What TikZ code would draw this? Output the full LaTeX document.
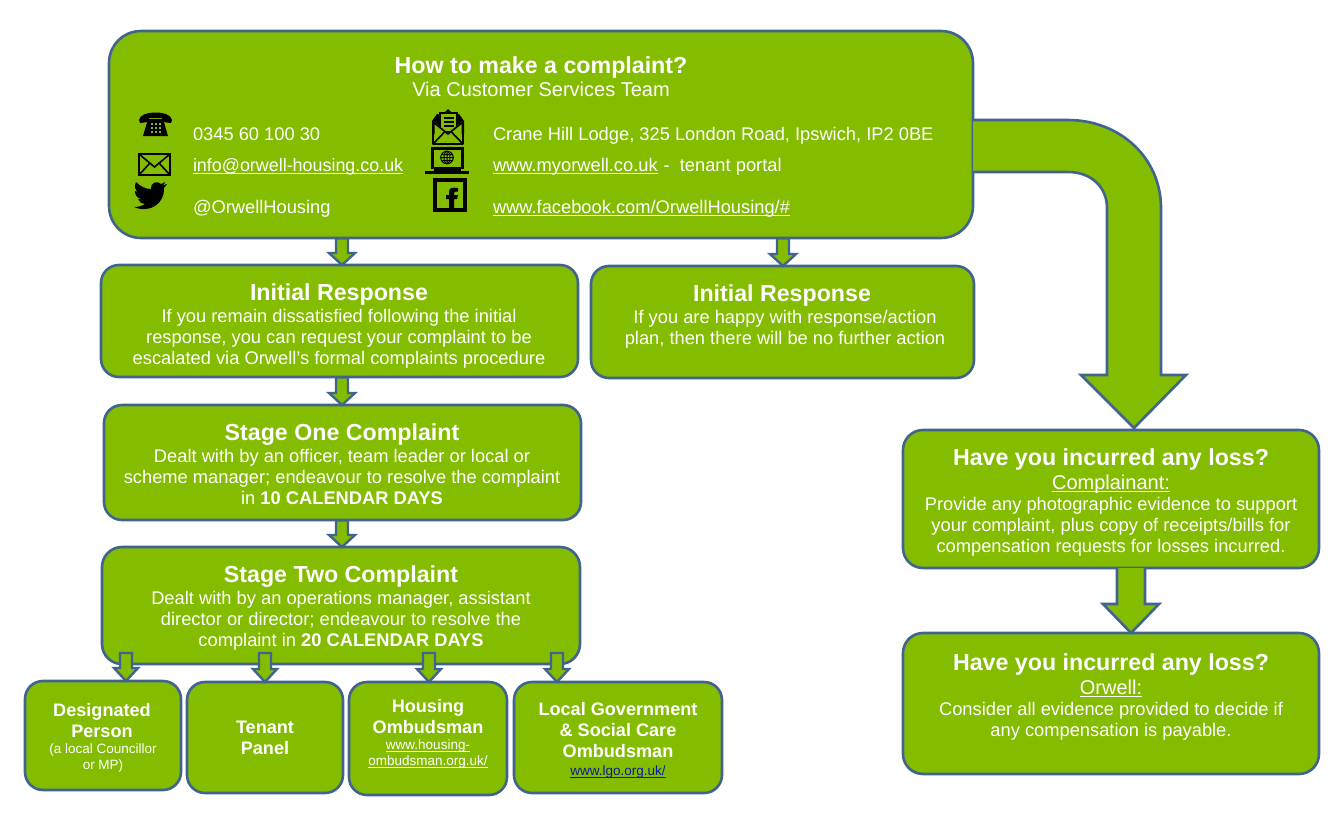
\documentclass[tikz,border=0pt]{standalone}
\usepackage{fontspec}
\setmainfont{Liberation Sans}
\usetikzlibrary{calc}
\definecolor{grn}{HTML}{84BC00}
\definecolor{edge}{HTML}{41648F}
\definecolor{linkblue}{HTML}{0A1E96}
\newcommand{\ulk}[1]{\setbox0\hbox{#1}\leavevmode\rlap{\rule[-2.6pt]{\wd0}{1.1pt}}\box0 }
\tikzset{
  flowbox/.style={draw=edge,fill=grn,line width=2.6pt,rounded corners=#1,inner sep=0pt,outer sep=0pt},
  flowbox/.default=18pt,
  blockarrow/.style={draw=edge,fill=grn,line width=2.6pt,line join=miter,miter limit=10},
  smallarrow/.style={draw=edge,fill=grn,line width=2.4pt,line join=miter,miter limit=10},
  base text/.style={text=white,inner sep=0pt,outer sep=0pt,execute at begin node=\strut,execute at end node=\strut},
  txt/.style={base text,align=center,font=\fontsize{18.3}{21}\selectfont},
  sub/.style={base text,align=center,font=\fontsize{20}{21}\selectfont},
  ltxt/.style={base text,align=left,anchor=west,font=\fontsize{18.3}{21}\selectfont},
  ttl/.style={base text,align=center,font=\fontsize{23.2}{25}\selectfont\bfseries},
  bsmall/.style={base text,align=center,font=\fontsize{18.1}{21}\selectfont\bfseries},
  tiny/.style={base text,align=center,font=\fontsize{13.5}{15.5}\selectfont},
  ico/.style={fill=black,draw=none},
  icol/.style={draw=black,line width=1.6pt,fill=none},
}
\newcommand{\boxnode}[6]{% name,x1,y1,x2,y2,radius
  \node[flowbox=#6,minimum width=#4pt-#2pt,minimum height=#5pt-#3pt,anchor=north west] (#1) at (#2,#3) {};}
\newcommand{\smarrow}[3]{% x, from node, to node
  \path (#1,0 |- #2.south) coordinate (sa) (#1,0 |- #3.north) coordinate (ta);
  \draw[smallarrow] ($(sa)+(-6,0.4)$) -- ($(ta)+(-6,-12)$) -- ($(ta)+(-13,-12)$) -- (ta)
     -- ($(ta)+(13,-12)$) -- ($(ta)+(6,-12)$) -- ($(sa)+(6,0.4)$) -- cycle;}
\begin{document}
\begin{tikzpicture}[x=1pt,y=-1pt]
\useasboundingbox (0,0) rectangle (1338,822);
\boxnode{top}{109}{31}{973}{238}{32pt}
\boxnode{irone}{101}{265}{578}{377}{18pt}
\boxnode{irtwo}{591}{266}{974}{378}{18pt}
\boxnode{sone}{104}{405}{581}{520}{18pt}
\boxnode{stwo}{102}{547}{580}{664}{20pt}
\boxnode{dp}{25}{681}{181}{790}{18pt}
\boxnode{tp}{187}{682}{343}{793}{18pt}
\boxnode{ho}{349}{682}{507}{795}{18pt}
\boxnode{lg}{514}{682}{722}{793}{18pt}
\boxnode{lossa}{903}{430}{1319}{568}{20pt}
\boxnode{lossb}{903}{633}{1319}{774}{20pt}
% big arrow
\draw[blockarrow] (top.east |- 0,120) coordinate (bigs) -- (1068,120)
  .. controls (1120,120) and (1161,158) .. (1161,208) -- (1161,375) -- (1186,375)
  -- (1134,428) coordinate (bigt) -- (1081,375) -- (1107,375) -- (1107,208)
  .. controls (1107,187) and (1091,172) .. (1068,172) -- (top.east |- 0,172);
\path (1131,0 |- lossa.south) coordinate (sb) (1131,0 |- lossb.north) coordinate (tb);
\draw[blockarrow] ($(sb)+(-14,0)$) -- ($(tb)+(-14,-29)$) -- ($(tb)+(-28,-29)$) -- (tb)
  -- ($(tb)+(28,-29)$) -- ($(tb)+(14,-29)$) -- ($(sb)+(14,0)$);
\smarrow{342}{top}{irone}
\smarrow{783}{top}{irtwo}
\smarrow{342}{irone}{sone}
\smarrow{342}{sone}{stwo}
\path (126,653) coordinate (q1) (265,653) coordinate (q2) (429,653) coordinate (q3) (557,653) coordinate (q4);
\foreach \q/\t in {q1/dp,q2/tp,q3/ho,q4/lg}{
  \path (\q |- \t.north) coordinate (ta);
  \draw[smallarrow] ($(\q)+(-6,0)$) -- ($(ta)+(-6,-13)$) -- ($(ta)+(-12,-13)$) -- (ta)
   -- ($(ta)+(12,-13)$) -- ($(ta)+(6,-13)$) -- ($(\q)+(6,0)$) -- cycle;
}
% top text
\node[ttl] (toptitle) at (541,68) {How to make a complaint?};
\node[sub] (topsub) at (541,92) {Via Customer Services Team};
\node[ltxt] (l1) at (193,136) {0345 60 100 30};
\node[ltxt,font=\fontsize{17.9}{21}\selectfont] (l2) at (193,167) {\ulk{info@orwell-housing.co.uk}};
\node[ltxt] (l3) at (193,209) {@OrwellHousing};
\node[ltxt] (r1) at (493,136) {Crane Hill Lodge, 325 London Road, Ipswich, IP2 0BE};
\node[ltxt] (r2) at (493,167) {\ulk{www.myorwell.co.uk}\hspace{6pt}-\hspace{5pt} tenant portal};
\node[ltxt] (r3) at (493,209) {\ulk{www.facebook.com/OrwellHousing/\#}};
% boxes text
\node[ttl] (ta1) at (339,295) {Initial Response};
\node[txt] (tb1) at (339,340) {If you remain dissatisfied following the initial\\response, you can request your complaint to be\\escalated via Orwell’s formal complaints procedure};
\node[ttl] (ta2) at (782,296) {Initial Response};
\node[txt] (tb2) at (785,331) {If you are happy with response/action\\plan, then there will be no further action};
\node[ttl] (ta3) at (342,435) {Stage One Complaint};
\node[txt] (tb3) at (342,480) {Dealt with by an officer, team leader or local or\\scheme manager; endeavour to resolve the complaint\\in \textbf{10 CALENDAR DAYS}};
\node[ttl] (ta4) at (341,577) {Stage Two Complaint};
\node[txt] (tb4) at (341,622) {Dealt with by an operations manager, assistant\\director or director; endeavour to resolve the\\complaint in \textbf{20 CALENDAR DAYS}};
\node[bsmall] (d1) at (102,724) {Designated\\Person};
\node[tiny] (d2) at (103,759) {(a local Councillor\\or MP)};
\node[bsmall] (t1) at (265,741) {Tenant\\Panel};
\node[bsmall] (h1) at (428,720) {Housing\\Ombudsman};
\node[tiny] (h2) at (428,755) {\ulk{www.housing-}\\\ulk{ombudsman.org.uk/}};
\node[bsmall] (g1) at (618,733) {Local Government\\\& Social Care\\Ombudsman};
\node[tiny,text=linkblue] (g2) at (618,772) {\ulk{www.lgo.org.uk/}};
\node[ttl] (la1) at (1111,460) {Have you incurred any loss?};
\node[sub] (la2) at (1111,485) {\ulk{Complainant:}};
\node[txt] (la3) at (1111,528) {Provide any photographic evidence to support\\your complaint, plus copy of receipts/bills for\\compensation requests for losses incurred.};
\node[ttl] (lb1) at (1111,665) {Have you incurred any loss?};
\node[sub] (lb2) at (1111,690) {\ulk{Orwell:}};
\node[txt] (lb3) at (1111,722.5) {Consider all evidence provided to decide if\\any compensation is payable.};
% icons: phone
\fill[ico] (139,120) .. controls (140,110) and (171,110) .. (172,120) -- (171,123) -- (163,122) -- (162,118) -- (149,118) -- (148,122) -- (140,123) -- cycle;
\fill[ico] (148,119) -- (163,119) -- (168,136) -- (143,136) -- cycle;
\foreach \a in {151,155,159} \foreach \b in {123,127,131} \fill[grn] (\a,\b) rectangle +(2,2);
% envelope
\draw[icol,fill=none,line width=2pt] (139,154) rectangle (170,175);
\draw[icol] (139,154) -- (154.5,167) -- (170,154) (139,175) -- (150,163) (170,175) -- (159,163);
% twitter bird
\fill[ico] (167,184) .. controls (165,185) and (164,185) .. (163,185) .. controls (164,184) and (165,183) .. (165,182)
  .. controls (163,183) and (162,184) .. (161,184) .. controls (157,180) and (150,183) .. (151,189)
  .. controls (145,189) and (140,186) .. (136,182) .. controls (134,186) and (135,190) .. (138,192)
  .. controls (137,192) and (136,192) .. (135,191) .. controls (135,195) and (137,198) .. (141,199)
  .. controls (140,199) and (139,199) .. (138,199) .. controls (139,202) and (142,204) .. (145,204)
  .. controls (142,206) and (138,207) .. (134,207) .. controls (150,214) and (165,203) .. (164,188)
  .. controls (165,187) and (166,186) .. (167,184) -- cycle;
% open envelope
\fill[ico] (432,121) -- (437,114) -- (443,114) -- (448,109) -- (453,114) -- (459,114) -- (464,121) -- (464,134) -- (432,134) -- cycle;
\draw[icol,line width=2.6pt,line join=round] (433,122) -- (433,144) -- (463,144) -- (463,122);
\draw[fill=grn,draw=black,line width=1.2pt] (440,113) rectangle (457,132);
\draw[icol,line width=1.3pt] (443.5,118) -- (453.5,118) (443.5,122) -- (453.5,122) (443.5,126) -- (453.5,126);
\fill[grn] (434.5,122) -- (448,134) -- (461.5,122) -- (461.5,142.5) -- (434.5,142.5) -- cycle;
\draw[icol,line width=1.6pt] (433,122) -- (448,134) -- (463,122) (433,144) -- (445,131.5) (463,144) -- (451,131.5);
% laptop
\draw[icol,line width=2.6pt] (432.3,148.3) rectangle (462.7,168);
\fill[ico] (425,171) rectangle (469,173.5);
\fill[ico] (434,168) rectangle (461,171);
\draw[icol,line width=1pt] (447,157.5) circle (6.3) (440.7,157.5) -- (453.3,157.5) (447,151.2) -- (447,163.8) (441.5,154.5) -- (452.5,154.5) (441.5,160.5) -- (452.5,160.5);
\draw[icol,line width=0.9pt] (447,157.5) ellipse (3 and 6.3);
% facebook
\draw[icol,line width=4.4pt,line join=miter] (435.2,180.2) rectangle (464.8,209.8);
\fill[ico] (449,209) -- (449,199) -- (446,199) -- (446,195) -- (449,195) -- (449,192)
  .. controls (449,188) and (452,187) .. (458,188) -- (458,191.5) .. controls (454,191.5) and (454,192) .. (454,195)
  -- (458,195) -- (457,199) -- (454,199) -- (454,209) -- cycle;
\end{tikzpicture}
\end{document}
